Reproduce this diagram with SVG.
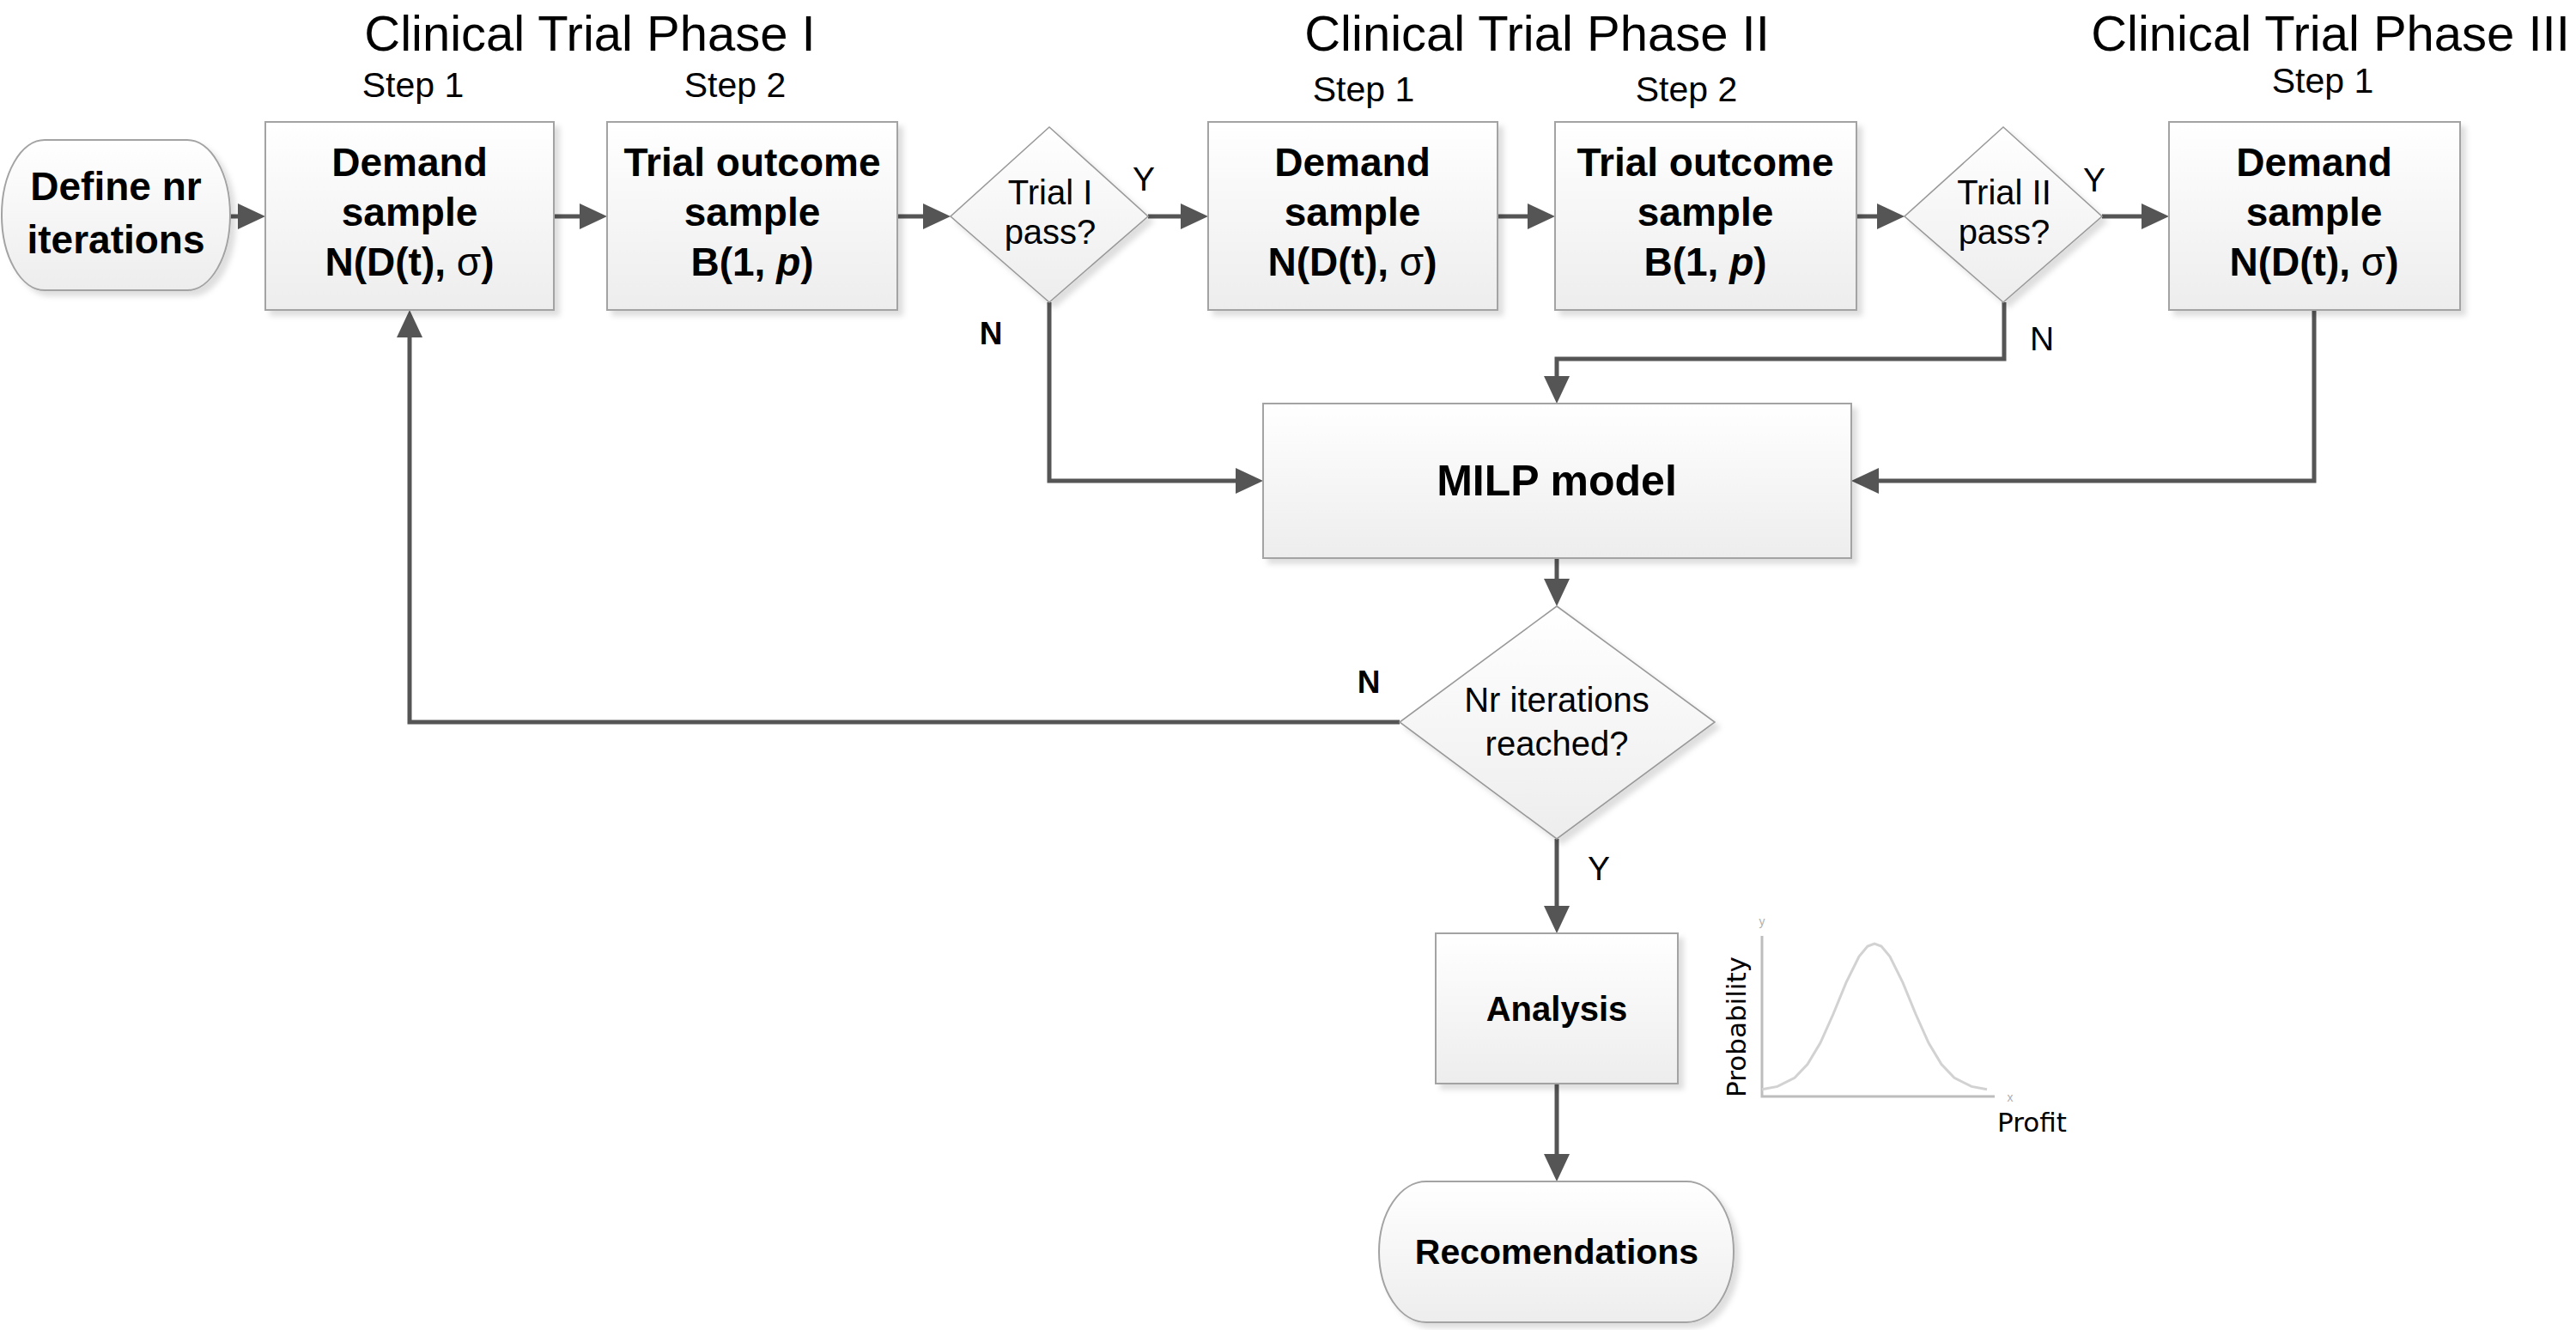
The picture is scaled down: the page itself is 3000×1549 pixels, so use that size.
<svg xmlns="http://www.w3.org/2000/svg" width="3000" height="1549" viewBox="0 0 3000 1549">
<defs>
<linearGradient id="g" x1="0" y1="0" x2="0" y2="1">
<stop offset="0" stop-color="#ffffff"/>
<stop offset="1" stop-color="#ededed"/>
</linearGradient>
<filter id="sh" x="-10%" y="-10%" width="125%" height="125%">
<feDropShadow dx="6" dy="6" stdDeviation="3" flood-color="#000" flood-opacity="0.13"/>
</filter>
<marker id="ah" markerUnits="userSpaceOnUse" markerWidth="34" markerHeight="32" refX="26" refY="15" orient="auto">
<path d="M0,0 L32,15 L0,30 Z" fill="#555"/>
</marker>
<style>
.box{fill:url(#g);stroke:#a3a3a3;stroke-width:2;filter:url(#sh)}
.dia{fill:url(#g);stroke:#9a9a9a;stroke-width:1.6;filter:url(#sh)}
.con{fill:none;stroke:#555;stroke-width:5;marker-end:url(#ah)}
text{font-family:"Liberation Sans",Arial,sans-serif;fill:#000}
.t{font-size:58px;text-anchor:middle}
.s{font-size:41px;text-anchor:middle}
.b{font-size:46px;font-weight:bold;text-anchor:middle}
.d{font-size:40px;text-anchor:middle}
.l{font-size:39px;text-anchor:middle}
.lb{font-size:37px;font-weight:bold;text-anchor:middle}
.ax{stroke:#bdbdbd;stroke-width:3;fill:none}
.cv{stroke:#d2d2d2;stroke-width:3;fill:none}
.dj{font-family:"DejaVu Sans",Verdana,sans-serif;font-size:31px}
</style>
</defs>

<g id="headers">
<text class="t" x="687" y="59">Clinical Trial Phase I</text>
<text class="t" x="1790" y="59">Clinical Trial Phase II</text>
<text class="t" x="2714" y="59">Clinical Trial Phase III</text>
<text class="s" x="481" y="113">Step 1</text>
<text class="s" x="856" y="113">Step 2</text>
<text class="s" x="1588" y="118">Step 1</text>
<text class="s" x="1964" y="118">Step 2</text>
<text class="s" x="2705" y="108">Step 1</text>
</g>

<g id="connectors">
<path class="con" d="M268,252 H303"/>
<path class="con" d="M645,252 H701"/>
<path class="con" d="M1045,252 H1101"/>
<path class="con" d="M1337,252 H1401"/>
<path class="con" d="M1744,252 H1805"/>
<path class="con" d="M2162,252 H2212"/>
<path class="con" d="M2448,252 H2520"/>
<path class="con" d="M1222,352 V560 H1465"/>
<path class="con" d="M2334,352 V418 H1813 V464"/>
<path class="con" d="M2695,361 V560 H2162"/>
<path class="con" d="M1813,650 V700"/>
<path class="con" d="M1630,841 H477 V367"/>
<path class="con" d="M1813,977 V1081"/>
<path class="con" d="M1813,1262 V1370"/>
</g>

<g id="labels">
<text class="l" x="1332" y="222">Y</text>
<text class="lb" x="1154" y="401">N</text>
<text class="l" x="2439" y="223">Y</text>
<text class="l" x="2378" y="408">N</text>
<text class="lb" x="1594" y="807">N</text>
<text class="l" x="1862" y="1025">Y</text>
</g>

<g id="define">
<path class="box" d="M52,163 H218 A50,87.5 0 0 1 218,338 H52 A50,87.5 0 0 1 52,163 Z"/>
<text class="b" x="135" y="233">Define nr</text>
<text class="b" x="135" y="295">iterations</text>
</g>

<g id="demand1">
<rect class="box" x="309" y="142" width="336" height="219"/>
<text class="b" x="477" y="205">Demand</text>
<text class="b" x="477" y="263">sample</text>
<text class="b" x="477" y="321">N(D(t), <tspan font-weight="normal">σ</tspan>)</text>
</g>

<g id="trial1">
<rect class="box" x="707" y="142" width="338" height="219"/>
<text class="b" x="876" y="205">Trial outcome</text>
<text class="b" x="876" y="263">sample</text>
<text class="b" x="876" y="321">B(1, <tspan font-style="italic">p</tspan>)</text>
</g>

<g id="pass1">
<path class="dia" d="M1222,148 L1337,252 L1222,352 L1107,252 Z"/>
<text class="d" x="1223" y="238">Trial I</text>
<text class="d" x="1223" y="284">pass?</text>
</g>

<g id="demand2">
<rect class="box" x="1407" y="142" width="337" height="219"/>
<text class="b" x="1575" y="205">Demand</text>
<text class="b" x="1575" y="263">sample</text>
<text class="b" x="1575" y="321">N(D(t), <tspan font-weight="normal">σ</tspan>)</text>
</g>

<g id="trial2">
<rect class="box" x="1811" y="142" width="351" height="219"/>
<text class="b" x="1986" y="205">Trial outcome</text>
<text class="b" x="1986" y="263">sample</text>
<text class="b" x="1986" y="321">B(1, <tspan font-style="italic">p</tspan>)</text>
</g>

<g id="pass2">
<path class="dia" d="M2333,148 L2448,252 L2333,352 L2218,252 Z"/>
<text class="d" x="2334" y="238">Trial II</text>
<text class="d" x="2334" y="284">pass?</text>
</g>

<g id="demand3">
<rect class="box" x="2526" y="142" width="339" height="219"/>
<text class="b" x="2695" y="205">Demand</text>
<text class="b" x="2695" y="263">sample</text>
<text class="b" x="2695" y="321">N(D(t), <tspan font-weight="normal">σ</tspan>)</text>
</g>

<g id="milp">
<rect class="box" x="1471" y="470" width="685" height="180"/>
<text x="1813" y="577" font-size="50" font-weight="bold" text-anchor="middle">MILP model</text>
</g>

<g id="iterations">
<path class="dia" d="M1813,706 L1997,841 L1813,977 L1630,841 Z"/>
<text class="d" x="1813" y="829">Nr iterations</text>
<text class="d" x="1813" y="880">reached?</text>
</g>

<g id="analysis">
<rect class="box" x="1672" y="1087" width="282" height="175"/>
<text x="1813" y="1189" font-size="40" font-weight="bold" text-anchor="middle">Analysis</text>
</g>

<g id="recomendations">
<path class="box" d="M1661,1376 H1964 A55,82 0 0 1 1964,1540 H1661 A55,82 0 0 1 1661,1376 Z"/>
<text x="1813" y="1472" font-size="41" font-weight="bold" text-anchor="middle">Recomendations</text>
</g>

<g id="chart">
<path class="ax" d="M2052,1090 V1277 H2323"/>
<polyline class="cv" points="2052,1268.7 2070,1265.4 2090,1255.3 2105,1239.5 2120,1214.5 2135,1181 2150,1144.4 2165,1114 2175,1102.1 2183,1099 2191,1102.1 2201,1114 2216,1144.4 2231,1181 2246,1214.5 2261,1239.5 2276,1255.3 2296,1265.4 2314,1268.7"/>
<text x="2052" y="1078" font-size="14" text-anchor="middle" style="fill:#b0b0b0">y</text>
<text x="2341" y="1283" font-size="14" text-anchor="middle" style="fill:#b0b0b0">x</text>
<text class="dj" x="2033" y="1196" text-anchor="middle" transform="rotate(-90 2033 1196)">Probability</text>
<text class="dj" x="2326" y="1318">Profit</text>
</g>
</svg>
